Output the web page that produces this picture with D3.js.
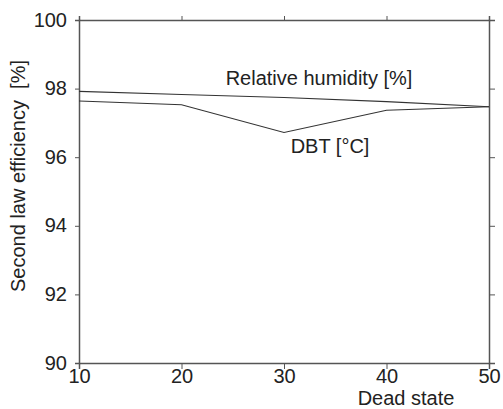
<!DOCTYPE html>
<html><head><meta charset="utf-8">
<script src="https://cdn.jsdelivr.net/npm/d3@7"></script>
<style>body{margin:0;background:#fff}svg{display:block}text{font-family:"Liberation Sans",Arial,sans-serif;fill:#222}</style>
</head><body>
<script>
const deadState = [10, 20, 30, 40, 50];
const rhValues = [97.92, 97.83, 97.74, 97.62, 97.47];
const dbtValues = [97.64, 97.53, 96.72, 97.37, 97.47];
const yTicks = [90, 92, 94, 96, 98, 100];
const xTicks = [10, 20, 30, 40, 50];
const rhLabel = "Relative humidity [%]";
const dbtLabel = "DBT [°C]";
const xTitle = "Dead state";
const yTitle = "Second law efficiency  [%]";

const W = 503, H = 409;
const m = {l: 79, r: 14, t: 20, b: 46};
const svg = d3.select("body").append("svg").attr("width", W).attr("height", H);
const x = d3.scaleLinear().domain([10, 50]).range([m.l, W - m.r]);
const y = d3.scaleLinear().domain([90, 100]).range([H - m.b, m.t]);
const axisColor = "#555";
const tickFont = "20px", labelFont = "20px";

function styleAxis(g, showLabels) {
  g.select(".domain").attr("stroke", axisColor).attr("stroke-width", 1.5);
  g.selectAll(".tick line").attr("stroke", axisColor).attr("stroke-width", 1);
  g.selectAll(".tick text").style("font-size", tickFont).attr("fill", "#222");
  if (!showLabels) g.selectAll(".tick text").remove();
}
const gb = svg.append("g").attr("transform", `translate(0,${y(90)})`)
  .call(d3.axisBottom(x).tickValues(xTicks).tickSize(6).tickPadding(0).tickFormat(d3.format("d")));
styleAxis(gb, true);
gb.selectAll(".tick text").attr("dy", "0.68em");
const gt = svg.append("g").attr("transform", `translate(0,${y(100)})`)
  .call(d3.axisTop(x).tickValues(xTicks).tickSize(4));
styleAxis(gt, false);
const gl = svg.append("g").attr("transform", `translate(${x(10)},0)`)
  .call(d3.axisLeft(y).tickValues(yTicks).tickSize(4).tickPadding(8).tickFormat(d3.format("d")));
styleAxis(gl, true);
gl.selectAll(".tick text").attr("dy", "0.3em");
const gr = svg.append("g").attr("transform", `translate(${x(50)},0)`)
  .call(d3.axisRight(y).tickValues(yTicks).tickSize(6));
styleAxis(gr, false);

const line = d3.line().x((d, i) => x(deadState[i])).y(d => y(d));
[rhValues, dbtValues].forEach(vals => {
  svg.append("path").datum(vals).attr("d", line)
    .attr("fill", "none").attr("stroke", "#333").attr("stroke-width", 1.1);
});

svg.append("text").attr("x", 319).attr("y", 85).attr("text-anchor", "middle")
  .style("font-size", labelFont).text(rhLabel);
svg.append("text").attr("x", 330).attr("y", 153).attr("text-anchor", "middle")
  .style("font-size", labelFont).text(dbtLabel);
svg.append("text").attr("x", 406).attr("y", 405).attr("text-anchor", "middle")
  .style("font-size", labelFont).text(xTitle);
svg.append("text").attr("transform", "translate(25,176) rotate(-90)")
  .attr("text-anchor", "middle").style("font-size", labelFont).style("white-space", "pre")
  .text(yTitle);
</script>
</body></html>
